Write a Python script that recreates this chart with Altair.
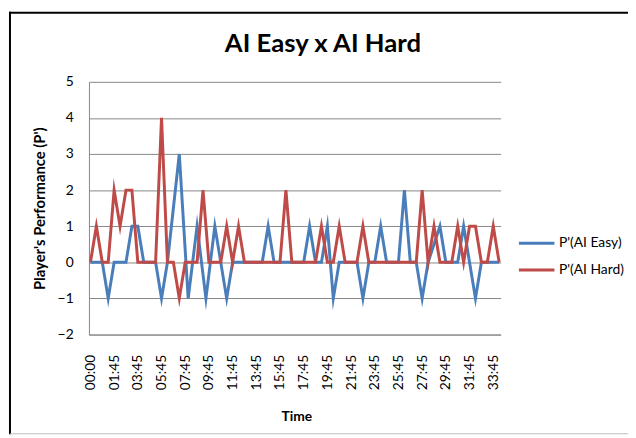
import json
import altair as alt
import pandas as pd

# ---- data ----
tick_labels = ["00:00", "01:45", "03:45", "05:45", "07:45", "09:45", "11:45", "13:45",
               "15:45", "17:45", "19:45", "21:45", "23:45", "25:45", "27:45", "29:45",
               "31:45", "33:45"]
tick_positions = [0, 4, 8, 12, 16, 20, 24, 28, 32, 36, 40, 44, 48, 52, 56, 60, 64, 68]

# P'(AI Easy): sample position (in 30 s steps) and value of each vertex
easy_pos = [0, 2, 3, 4, 6, 7, 8, 9, 11, 12,
            13, 15, 16.5, 18, 19.5, 21, 23, 24, 29, 30,
            31, 36, 37, 38, 39, 40, 41, 42, 45, 46,
            47, 48, 49, 50, 52, 53, 54, 55, 56, 57,
            59, 60, 62, 63, 65, 66, 69]
easy_val = [0, 0, -1, 0, 0, 1, 1, 0, 0, -1,
            0, 3, -1, 1, -1, 1, -1, 0, 0, 1,
            0, 0, 1, 0, 0, 1, -1, 0, 0, -1,
            0, 0, 1, 0, 0, 2, 0, 0, -1, 0,
            1, 0, 0, 1, -1, 0, 0]

# P'(AI Hard): one value per sample position 0..69
hard_val = [0, 1, 0, 0, 2, 1, 2, 2, 0, 0,
            0, 0, 4, 0, 0, -1, 0, 0, 0, 2,
            0, 0, 0, 1, 0, 1, 0, 0, 0, 0,
            0, 0, 0, 2, 0, 0, 0, 0, 0, 1,
            0, 0, 1, 0, 0, 0, 1, 0, 0, 0,
            0, 0, 0, 0, 0, 0, 2, 0, 1, 0,
            0, 0, 1, 0, 1, 1, 0, 0, 1, 0]
hard_pos = list(range(len(hard_val)))

series_names = ["P'(AI Easy)", "P'(AI Hard)"]
series_colors = ["#4A7EBB", "#BE4B48"]

rows = []
for name, ps, vs in [(series_names[0], easy_pos, easy_val), (series_names[1], hard_pos, hard_val)]:
    for p, v in zip(ps, vs):
        rows.append({"Series": name, "Pos": p, "Value": v})
df = pd.DataFrame(rows)

FONT = "Lato"
label_expr = json.dumps(tick_labels) + "[round(datum.value / 4)]"

lines = alt.Chart(df).mark_line(strokeWidth=3, strokeJoin="miter", strokeMiterLimit=10).encode(
    x=alt.X("Pos:Q", scale=alt.Scale(domain=[-0.25, 69.25], nice=False, zero=False),
            axis=alt.Axis(values=tick_positions, labelExpr=label_expr, labelAngle=-90,
                          labelFont=FONT, labelFontSize=14, labelColor="#000000",
                          labelPadding=20, ticks=False, grid=False,
                          domainColor="#868686", domainWidth=1,
                          title="Time", titleFont=FONT, titleFontSize=14, titleFontWeight="bold",
                          titleColor="#000000", titleX=210, titleY=83, titleBaseline="middle",
                          titleAlign="center")),
    y=alt.Y("Value:Q", scale=alt.Scale(domain=[-2, 5], nice=False, zero=False),
            axis=alt.Axis(values=[-2, -1, 0, 1, 2, 3, 4, 5], labelFont=FONT, labelFontSize=14,
                          labelColor="#000000", labelPadding=16, ticks=False,
                          domainColor="#868686", domainWidth=1,
                          gridColor="#868686", gridWidth=1,
                          title="Player's Performance (P')", titleFont=FONT, titleFontSize=15,
                          titleFontWeight="bold", titleColor="#000000",
                          titleX=-50, titleY=128, titleAngle=-90, titleAlign="center",
                          titleBaseline="middle")),
    color=alt.Color("Series:N", scale=alt.Scale(domain=series_names, range=series_colors),
                    legend=alt.Legend(title=None, orient="none", legendX=434, legendY=144,
                                      symbolType="stroke", symbolSize=1296, symbolStrokeWidth=3,
                                      labelFont=FONT, labelFontSize=14, labelColor="#000000",
                                      labelOffset=3, rowPadding=0, padding=0)),
    order=alt.Order("Pos:Q")
)

one = pd.DataFrame({"a": [0]})

# outer chart frame: black top and left edges, light bottom edge
frame_top = alt.Chart(one).mark_rule(stroke="#000000", strokeWidth=2).encode(
    x=alt.value(-81), x2=alt.value(560), y=alt.value(-70))
frame_left = alt.Chart(one).mark_rule(stroke="#000000", strokeWidth=2).encode(
    x=alt.value(-80), y=alt.value(-71), y2=alt.value(357))
frame_bottom = alt.Chart(one).mark_rule(stroke="#bdbdbd", strokeWidth=1).encode(
    x=alt.value(-80), x2=alt.value(560), y=alt.value(356.5))

title = alt.Chart(one).mark_text(
    text="AI Easy x AI Hard", font=FONT, fontSize=26, fontWeight="bold", color="#000000",
    align="center", baseline="alphabetic"
).encode(x=alt.value(237), y=alt.value(-30))

chart = alt.layer(frame_top, frame_left, frame_bottom, title, lines).properties(
    width=417, height=256,
    autosize=alt.AutoSizeParams(type="none"),
    padding={"left": 82, "top": 72, "right": 129, "bottom": 102},
    background="#ffffff"
).configure_view(stroke=None)

chart.save("out.html", embed_options={"renderer": "svg", "actions": False})
